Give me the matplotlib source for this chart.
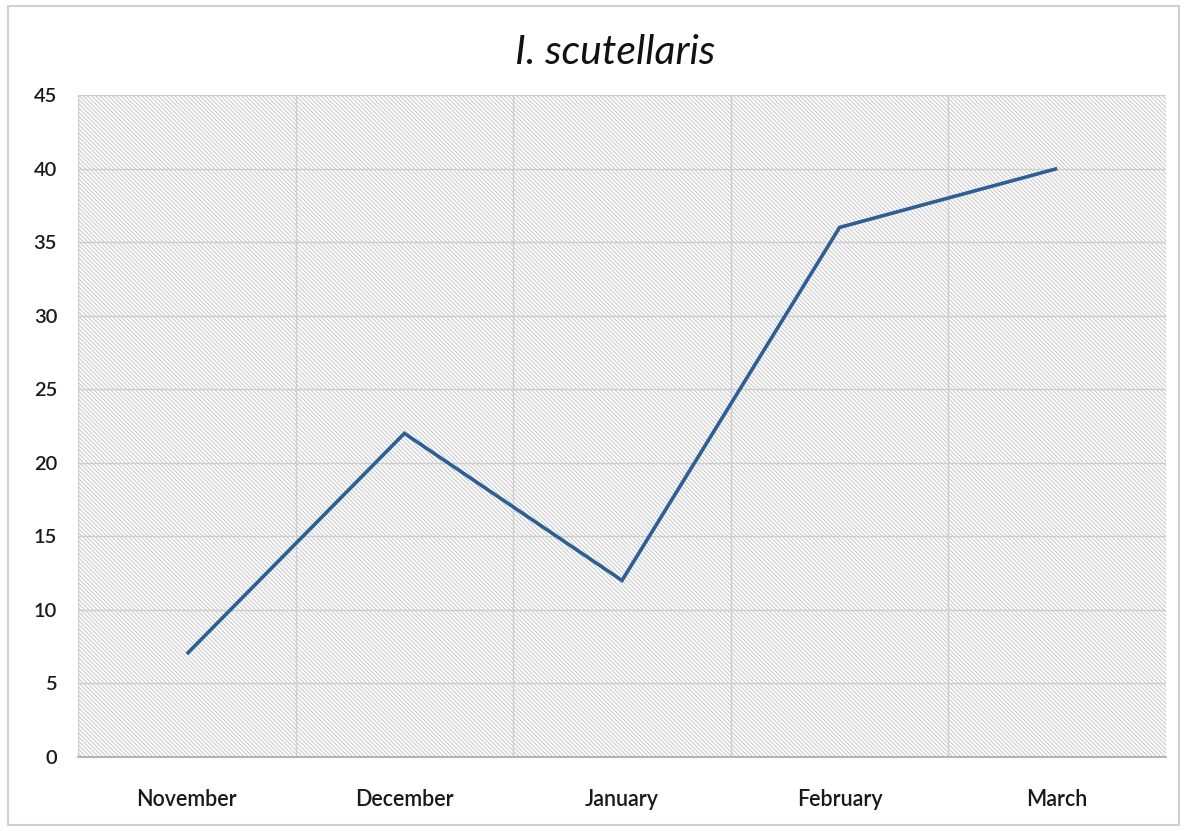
import matplotlib
matplotlib.use("Agg")
import matplotlib.pyplot as plt
from matplotlib.patches import Rectangle
from matplotlib.ticker import FixedLocator

months = ["November", "December", "January", "February", "March"]
counts = [7, 22, 12, 36, 40]
y_ticks = [0, 5, 10, 15, 20, 25, 30, 35, 40, 45]

plt.rcParams["font.family"] = ["Lato", "DejaVu Sans"]
plt.rcParams["hatch.linewidth"] = 0.7

fig = plt.figure(figsize=(11.87, 8.31), dpi=100)
fig.patch.set_facecolor("white")

# thin frame around the whole chart
fig.add_artist(Rectangle((8 / 1187, 6 / 831), 1171 / 1187, 819 / 831,
                         transform=fig.transFigure, fill=False,
                         edgecolor="#d0d0d0", linewidth=1.5))

ax = fig.add_axes([78 / 1187, 74 / 831, 1088 / 1187, 662 / 831])
ax.set_facecolor("white")

# diagonal-pattern plot area
ax.add_patch(Rectangle((0, 0), 1, 1, transform=ax.transAxes,
                       facecolor="white", edgecolor="#c6c6c6",
                       linewidth=0, hatch="\\" * 8, zorder=0))

x = list(range(len(months)))
ax.plot(x, counts, color="#2d5f97", linewidth=2.6, solid_capstyle="butt",
        solid_joinstyle="miter", zorder=3)

ax.set_xlim(-0.5, len(months) - 0.5)
ax.set_ylim(0, 45)
ax.set_yticks(y_ticks)
ax.set_xticks(x)
ax.set_xticklabels(months)
ax.xaxis.set_minor_locator(FixedLocator([i - 0.5 for i in range(len(months) + 1)]))

ax.grid(axis="y", which="major", color="#cdcdcd", linewidth=1.0, zorder=1)
ax.grid(axis="x", which="minor", color="#cdcdcd", linewidth=1.0, zorder=1)
ax.set_axisbelow(True)

for side in ("left", "top", "right"):
    ax.spines[side].set_visible(False)
ax.spines["bottom"].set_color("#a8a8a8")
ax.spines["bottom"].set_linewidth(1.2)

ax.tick_params(axis="both", which="both", length=0)
ax.tick_params(axis="y", labelsize=14.5, pad=15, labelcolor="#1a1a1a")
ax.tick_params(axis="x", labelsize=15.5, pad=23, labelcolor="#1a1a1a")
for lab in ax.get_xticklabels() + ax.get_yticklabels():
    lab.set_fontweight("semibold")

fig.text(615 / 1187, 1 - 53 / 831, "I. scutellaris", ha="center", va="center",
         fontsize=29.5, fontstyle="italic", color="#111111")

fig.savefig("out.png", dpi=100, facecolor="white")
